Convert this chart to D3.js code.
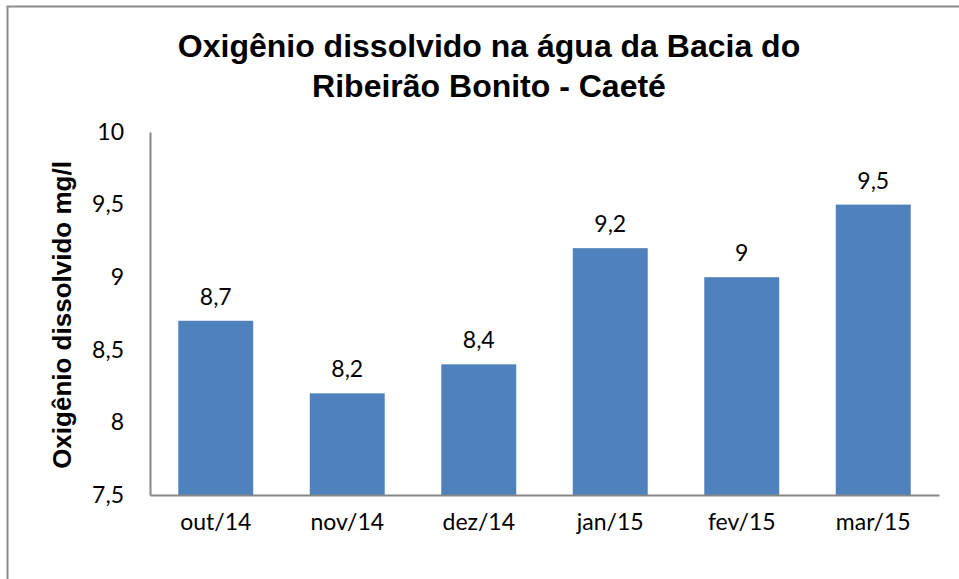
<!DOCTYPE html>
<html>
<head>
<meta charset="utf-8">
<script src="https://cdn.jsdelivr.net/npm/d3@7.9.0/dist/d3.min.js"></script>
<style>
  body { margin: 0; background: #fff; }
  svg { display: block; }
</style>
</head>
<body>
<div id="chart"></div>
<script>
const months = ["out/14", "nov/14", "dez/14", "jan/15", "fev/15", "mar/15"];
const oxygen = [8.7, 8.2, 8.4, 9.2, 9.0, 9.5];
const yTicks = [7.5, 8, 8.5, 9, 9.5, 10];
const titleLines = ["Oxigênio dissolvido na água da Bacia do", "Ribeirão Bonito - Caeté"];

const width = 959, height = 579;
const margin = {left: 150, right: 20, top: 132, bottom: 84};
const fmt = v => String(v).replace(".", ",");
const labelFont = "Lato, 'Open Sans', sans-serif";

const svg = d3.select("#chart").append("svg")
    .attr("width", width)
    .attr("height", height);

// outer chart border (right and bottom fall outside the picture)
svg.append("rect")
    .attr("x", 7.5).attr("y", 6.5)
    .attr("width", 1000).attr("height", 1000)
    .attr("fill", "none")
    .attr("stroke", "#8c8c8c")
    .attr("stroke-width", 2);

const x = d3.scaleBand()
    .domain(months)
    .range([margin.left, width - margin.right])
    .paddingInner(0.43)
    .paddingOuter(0.215);

const y = d3.scaleLinear()
    .domain([7.5, 10])
    .range([height - margin.bottom, margin.top]);

// bars
svg.selectAll(".bar")
    .data(months)
    .enter().append("rect")
    .attr("class", "bar")
    .attr("x", d => x(d))
    .attr("width", x.bandwidth())
    .attr("y", (d, i) => y(oxygen[i]))
    .attr("height", (d, i) => y(7.5) - y(oxygen[i]))
    .attr("fill", "#4f81bd");

// value labels
svg.selectAll(".val")
    .data(months)
    .enter().append("text")
    .attr("class", "val")
    .attr("x", d => x(d) + x.bandwidth() / 2)
    .attr("y", (d, i) => y(oxygen[i]) - 16)
    .attr("text-anchor", "middle")
    .style("font-family", labelFont)
    .style("font-size", "23px")
    .text((d, i) => fmt(oxygen[i]));

// y axis
const yAxis = svg.append("g")
    .attr("transform", `translate(${margin.left},0)`)
    .call(d3.axisLeft(y).tickValues(yTicks).tickSize(0).tickPadding(26).tickFormat(fmt));
yAxis.select(".domain").attr("stroke", "#868686").attr("stroke-width", 2);
yAxis.selectAll("text")
    .style("font-family", labelFont)
    .style("font-size", "23px")
    .attr("fill", "#000");

// x axis
const xAxis = svg.append("g")
    .attr("transform", `translate(0,${height - margin.bottom})`)
    .call(d3.axisBottom(x).tickSize(0).tickPadding(19));
xAxis.select(".domain").attr("stroke", "#868686").attr("stroke-width", 2);
xAxis.selectAll("text")
    .style("font-family", labelFont)
    .style("font-size", "23px")
    .attr("fill", "#000");

// title
svg.append("text")
    .attr("x", 489)
    .attr("y", 57)
    .attr("text-anchor", "middle")
    .style("font-family", "'Liberation Sans', Arial, sans-serif")
    .style("font-weight", "bold")
    .style("font-size", "32px")
    .selectAll("tspan")
    .data(titleLines)
    .enter().append("tspan")
    .attr("x", 489)
    .attr("dy", (d, i) => i === 0 ? 0 : 40)
    .text(d => d);

// y axis title
svg.append("text")
    .attr("transform", "translate(71,315) rotate(-90)")
    .attr("text-anchor", "middle")
    .style("font-family", "'Liberation Sans', Arial, sans-serif")
    .style("font-weight", "bold")
    .style("font-size", "26px")
    .text("Oxigênio dissolvido mg/l");
</script>
</body>
</html>
